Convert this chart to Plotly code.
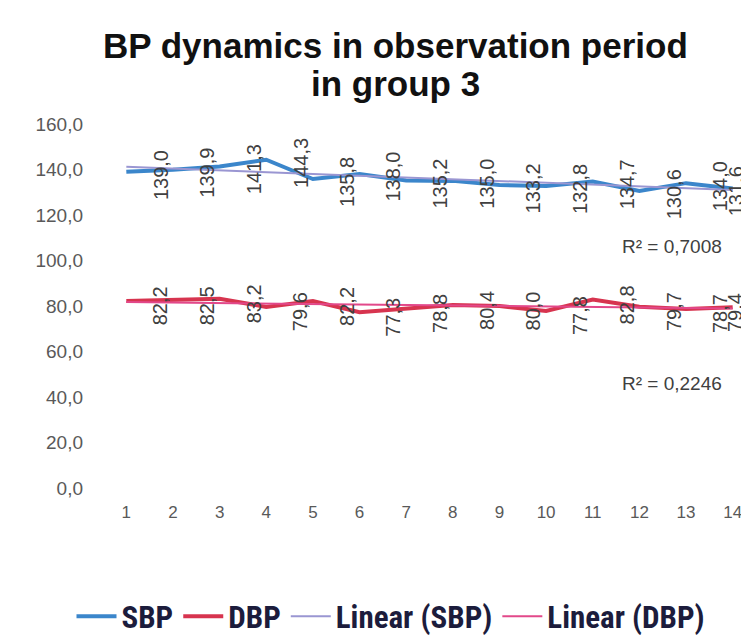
import numpy as np
import plotly.graph_objects as go

days = list(range(1, 15))
sbp = [139.0, 139.9, 141.3, 144.3, 135.8, 138.0, 135.2, 135.0, 133.2, 132.8, 134.7, 130.6, 134.0, 131.6]
dbp = [82.2, 82.5, 83.2, 79.6, 82.2, 77.3, 78.8, 80.4, 80.0, 77.8, 82.8, 79.7, 78.7, 79.4]
r2_labels = ["R² = 0,7008", "R² = 0,2246"]
y_ticks = [0, 20, 40, 60, 80, 100, 120, 140, 160]

SBP_C = "#3b86cb"
DBP_C = "#d7344f"
LSBP_C = "#9a96d2"
LDBP_C = "#e2488a"

W, H = 749, 636
ML, MR, MT, MB = 95, 1, 116, 149
PW, PH = W - ML - MR, H - MT - MB

def px_x(p):
    return (p - ML) / PW

def px_y(p):
    return (H - MB - p) / PH

x = np.array(days, dtype=float)
fit_s = np.polyval(np.polyfit(x, sbp, 1), x)
fit_d = np.polyval(np.polyfit(x, dbp, 1), x)

fig = go.Figure()
fig.add_trace(go.Scatter(x=days, y=sbp, mode="lines", name="SBP",
                         line=dict(color=SBP_C, width=4)))
fig.add_trace(go.Scatter(x=days, y=dbp, mode="lines", name="DBP",
                         line=dict(color=DBP_C, width=4)))
fig.add_trace(go.Scatter(x=days, y=fit_s, mode="lines", name="Linear (SBP)",
                         line=dict(color=LSBP_C, width=2)))
fig.add_trace(go.Scatter(x=days, y=fit_d, mode="lines", name="Linear (DBP)",
                         line=dict(color=LDBP_C, width=2)))

def fmt(v):
    return f"{v:.1f}".replace(".", ",")

lab_font = dict(family="Liberation Sans", size=20, color="#404040")
annots = []
n = len(days)
for i, (d, v) in enumerate(zip(days, sbp)):
    annots.append(dict(x=d, y=v, xref="x", yref="y", text=fmt(v), textangle=-90,
                       showarrow=False, xshift=34 if i < n - 1 else 3, yshift=-3,
                       font=lab_font))
for i, (d, v) in enumerate(zip(days, dbp)):
    annots.append(dict(x=d, y=v, xref="x", yref="y", text=fmt(v), textangle=-90,
                       showarrow=False, xshift=34 if i < n - 1 else 3, yshift=-5,
                       font=lab_font))
r2_font = dict(family="Liberation Sans", size=19, color="#404040")
annots.append(dict(x=12.69, y=106, xref="x", yref="y", text=r2_labels[0],
                   showarrow=False, font=r2_font))
annots.append(dict(x=12.69, y=46, xref="x", yref="y", text=r2_labels[1],
                   showarrow=False, font=r2_font))
title_font = dict(family="Liberation Sans", size=35, color="#111111")
annots.append(dict(x=px_x(387), y=px_y(36), xref="paper", yref="paper",
                   text="<b>BP dynamics in observation period</b>", showarrow=False,
                   xanchor="center", yanchor="middle", font=title_font))
annots.append(dict(x=px_x(387), y=px_y(75), xref="paper", yref="paper",
                   text="<b>in group 3</b>", showarrow=False,
                   xanchor="center", yanchor="middle", font=title_font))

fig.update_layout(
    width=W, height=H,
    margin=dict(l=ML, r=MR, t=MT, b=MB),
    paper_bgcolor="white", plot_bgcolor="white",
    showlegend=True,
    legend=dict(orientation="h", x=px_x(383), xanchor="center",
                y=px_y(618), yanchor="middle",
                font=dict(family="Liberation Sans Narrow, Roboto Condensed, Liberation Sans",
                          size=31, color="#1c1c3c", weight="bold"),
                itemwidth=40, tracegroupgap=0),
    annotations=annots,
    xaxis=dict(range=[0.5, 14.5], tickmode="array", tickvals=days,
               ticktext=[str(d) for d in days], showgrid=False, zeroline=False,
               showline=False, ticks="", ticklabelstandoff=12,
               tickfont=dict(family="Liberation Sans", size=17, color="#595959")),
    yaxis=dict(range=[0, 160], tickmode="array", tickvals=y_ticks,
               ticktext=[fmt(t) for t in y_ticks], showgrid=False, zeroline=False,
               showline=False, ticks="", ticklabelstandoff=19,
               tickfont=dict(family="Liberation Sans", size=19, color="#595959")),
)

fig.write_html("out.html")
